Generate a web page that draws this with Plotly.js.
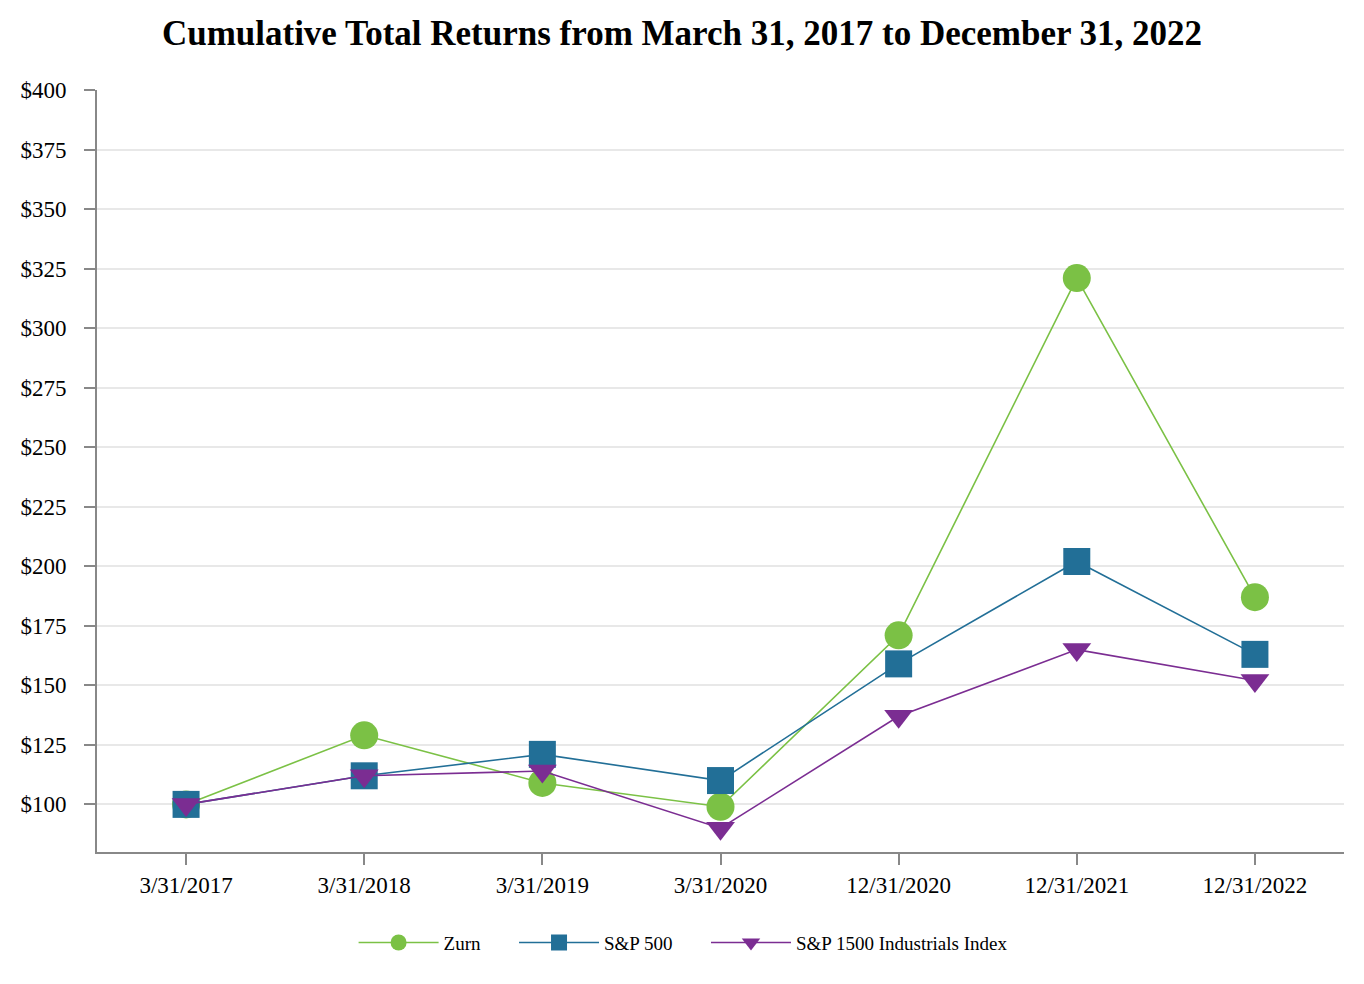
<!DOCTYPE html>
<html>
<head>
<meta charset="utf-8">
<script src="https://cdn.plot.ly/plotly-3.0.1.min.js"></script>
<style>html,body{margin:0;padding:0;background:#fff;}#chart{width:1364px;height:984px;}</style>
</head>
<body>
<div id="chart"></div>
<script>
const categories = ["3/31/2017", "3/31/2018", "3/31/2019", "3/31/2020", "12/31/2020", "12/31/2021", "12/31/2022"];
const seriesNames = ["Zurn", "S&P 500", "S&P 1500 Industrials Index"];
const zurn = [100, 129, 109, 99, 171, 321, 187];
const sp500 = [100, 112, 121, 110, 159, 202, 163];
const sp1500Ind = [100, 112, 114, 90, 137, 165, 152];
const yTickVals = [100, 125, 150, 175, 200, 225, 250, 275, 300, 325, 350, 375, 400];
const yTickText = yTickVals.map(v => "$" + v);

const xIdx = categories.map((c, i) => i);
const pad = "\u00a0\u00a0\u00a0\u00a0\u00a0\u00a0";

const traces = [
  {name: seriesNames[0] + pad, x: xIdx, y: zurn, type: "scatter", mode: "lines+markers",
   line: {color: "#7bc145", width: 1.6}, marker: {symbol: "circle", size: 28, color: "#7bc145"}},
  {name: seriesNames[1] + pad, x: xIdx, y: sp500, type: "scatter", mode: "lines+markers",
   line: {color: "#226f97", width: 1.6}, marker: {symbol: "square", size: 27, color: "#226f97"}},
  {name: seriesNames[2], x: xIdx, y: sp1500Ind, type: "scatter", mode: "lines+markers",
   line: {color: "#7b2d92", width: 1.6}, marker: {symbol: "triangle-down", size: 25, color: "#7b2d92"}}
];

const serif = "Liberation Serif, Times New Roman, serif";
const layout = {
  width: 1364, height: 984,
  margin: {l: 97, r: 20, t: 90, b: 132},
  paper_bgcolor: "#fff", plot_bgcolor: "#fff",
  font: {family: serif, color: "#000", size: 23},
  title: {text: "<b>Cumulative Total Returns from March 31, 2017 to December 31, 2022</b>",
          font: {size: 35, family: serif, color: "#000"},
          x: 0.5, xanchor: "center", y: 0.967, yanchor: "middle"},
  xaxis: {range: [-0.5, 6.5], tickvals: xIdx, ticktext: categories, showgrid: false, zeroline: false,
          showline: true, linecolor: "#888", linewidth: 2, ticks: "outside", ticklen: 11, tickwidth: 2,
          tickcolor: "#888", tickfont: {size: 23, family: serif}, fixedrange: true},
  yaxis: {range: [80, 400], tickvals: yTickVals, ticktext: yTickText, showgrid: true, gridcolor: "#e8e8e8",
          gridwidth: 2, zeroline: false, showline: true, linecolor: "#888", linewidth: 2,
          ticks: "outside", ticklen: 11, tickwidth: 2, tickcolor: "#888", tickfont: {size: 23, family: serif},
          ticklabelstandoff: 13, fixedrange: true},
  showlegend: true,
  legend: {orientation: "h", x: 0.47, xanchor: "center", y: -0.119, yanchor: "middle",
           font: {size: 19, family: serif}, itemwidth: 80,
           tracegroupgap: 0, traceorder: "normal"}
};

Plotly.newPlot("chart", traces, layout, {displayModeBar: false, staticPlot: true});
</script>
</body>
</html>
